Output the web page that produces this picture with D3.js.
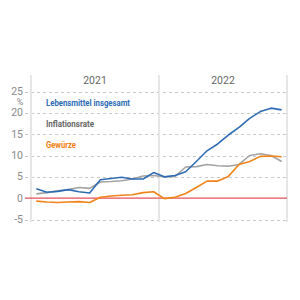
<!DOCTYPE html>
<html>
<head>
<meta charset="utf-8">
<script src="https://cdn.jsdelivr.net/npm/d3@7"></script>
<style>
  body { margin: 0; background: #fff; }
  svg { font-family: Roboto, "Noto Sans", sans-serif; }
</style>
</head>
<body>
<div id="chart"></div>
<script>
// monthly values, Jan 2021 .. Dec 2022 (change vs. previous year, %)
var months = d3.range(24);
var years = ["2021", "2022"];
var yTicks = [-5, 0, 5, 10, 15, 20, 25];

var lebensmittel = [2.2, 1.4, 1.6, 2.0, 1.5, 1.2, 4.3, 4.6, 4.9, 4.5, 4.5, 6.0,
                    5.0, 5.3, 6.2, 8.6, 11.1, 12.7, 14.8, 16.6, 18.7, 20.3, 21.1, 20.7];
var inflation = [1.0, 1.3, 1.7, 2.0, 2.5, 2.3, 3.8, 3.9, 4.1, 4.5, 5.2, 5.3,
                 5.0, 5.1, 7.3, 7.4, 7.9, 7.6, 7.5, 7.9, 10.0, 10.4, 10.0, 8.6];
var gewuerze = [-0.7, -0.9, -1.0, -0.9, -0.8, -1.0, 0.2, 0.5, 0.7, 0.8, 1.3, 1.5,
                -0.1, 0.2, 1.1, 2.5, 4.0, 4.0, 5.1, 7.9, 8.6, 9.8, 9.9, 9.7];

var series = [
    {name: "Inflationsrate", values: inflation, color: "#a3a3a3", text: "#666666"},
    {name: "Gewürze", values: gewuerze, color: "#f08419", text: "#f07d10"},
    {name: "Lebensmittel insgesamt", values: lebensmittel, color: "#2e6db4", text: "#2e6db4"}
];
var legendOrder = [2, 0, 1];

var width = 300, height = 300;

var svg = d3.select("#chart").append("svg")
    .attr("width", width)
    .attr("height", height);

var x = d3.scaleBand()
    .domain(months)
    .range([31, 287]);

var y = d3.scaleLinear()
    .domain([-5, 25])
    .range([219.5, 91.5]);

// horizontal dashed grid
svg.append("g")
    .selectAll("line")
    .data(yTicks.filter(function(d) { return d != 0; }))
    .enter().append("line")
    .attr("x1", 25)
    .attr("x2", 287)
    .attr("y1", function(d) { return Math.round(y(d)) + 0.5; })
    .attr("y2", function(d) { return Math.round(y(d)) + 0.5; })
    .attr("stroke", "#c8c8c8")
    .attr("stroke-dasharray", "3,3");

// year separators
var yearX = [31, 159, 287];
svg.append("g")
    .selectAll("line")
    .data(yearX)
    .enter().append("line")
    .attr("x1", function(d) { return d; })
    .attr("x2", function(d) { return d; })
    .attr("y1", 75)
    .attr("y2", 222)
    .attr("stroke", "#e6e6e6")
    .attr("stroke-width", 2);

// year labels
svg.append("g")
    .selectAll("text")
    .data(years)
    .enter().append("text")
    .attr("x", function(d, i) { return (yearX[i] + yearX[i + 1]) / 2; })
    .attr("y", 84)
    .attr("text-anchor", "middle")
    .attr("font-size", 10.5)
    .attr("fill", "#666")
    .text(function(d) { return d; });

// y tick labels
svg.append("g")
    .selectAll("text")
    .data(yTicks)
    .enter().append("text")
    .attr("x", 23)
    .attr("y", function(d) { return y(d) + 3.5; })
    .attr("text-anchor", "end")
    .attr("font-size", 10.5)
    .attr("fill", "#8a8a8a")
    .text(function(d) { return d < 0 ? "-" + Math.abs(d) : d; });

svg.append("text")
    .attr("x", 20)
    .attr("y", 104.5)
    .attr("text-anchor", "middle")
    .attr("font-size", 9)
    .attr("fill", "#8a8a8a")
    .text("%");

// zero line
svg.append("line")
    .attr("x1", 25)
    .attr("x2", 287)
    .attr("y1", y(0))
    .attr("y2", y(0))
    .attr("stroke", "#e8505b")
    .attr("stroke-width", 1.2);

var line = d3.line()
    .x(function(d, i) { return x(i) + x.bandwidth() / 2; })
    .y(function(d) { return y(d); });

svg.append("g")
    .selectAll("path")
    .data(series)
    .enter().append("path")
    .attr("d", function(d) { return line(d.values); })
    .attr("fill", "none")
    .attr("stroke", function(d) { return d.color; })
    .attr("stroke-width", 1.6)
    .attr("stroke-linejoin", "round");

// legend labels
var legendWidths = [84, 48, 30];
svg.append("g")
    .selectAll("text")
    .data(legendOrder)
    .enter().append("text")
    .attr("x", 46)
    .attr("y", function(d, i) { return 105.5 + i * 21.3; })
    .attr("font-size", 9.5)
    .attr("font-weight", "bold")
    .attr("fill", function(d) { return series[d].text; })
    .attr("textLength", function(d, i) { return legendWidths[i]; })
    .attr("lengthAdjust", "spacingAndGlyphs")
    .text(function(d) { return series[d].name; });
</script>
</body>
</html>
